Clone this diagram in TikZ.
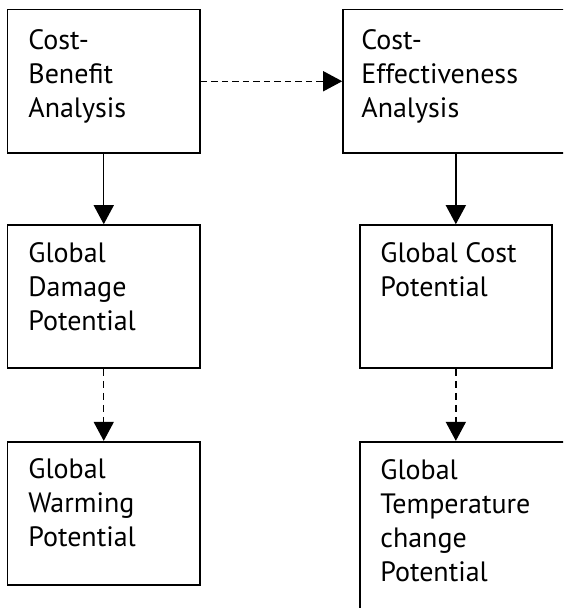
\documentclass[tikz,border=0pt]{standalone}
\usepackage{fontspec}
\setmainfont{PT Sans}
\usetikzlibrary{arrows.meta}
\tikzset{
  box/.style={draw, line width=1.6pt, inner sep=0pt, minimum width=192.5pt, minimum height=143.5pt},
  label/.style={anchor=north west, inner sep=0pt, align=left, font=\fontsize{28}{34}\selectfont},
  conn/.style={line width=1.4pt, -{Triangle[width=20pt,length=19pt]}},
  dconn/.style={conn, dash pattern=on 6.5pt off 4pt}
}
\begin{document}
\begin{tikzpicture}[x=1pt,y=-1pt]
\useasboundingbox (0,0) rectangle (563,608);
\clip (0,0) rectangle (563,608);
\fill[white] (0,0) rectangle (563,608);
\node[box] (b1) at (103.75,81.25) {};
\node[box, minimum width=240pt] (b2) at (463,81.25) {};
\node[box, minimum height=143pt] (b3) at (103.75,296.5) {};
\node[box, minimum width=191.7pt, minimum height=143pt] (b4) at (455.85,296.5) {};
\node[box, minimum height=143.3pt] (b5) at (103.75,513.35) {};
\node[box, minimum width=240pt, minimum height=210pt] (b6) at (480,546.7) {};

\node[label] (t1) at ([shift={(21.5,16.7)}]b1.north west) {\strut Cost-\\Benefit\\Analysis};
\node[label] (t2) at ([shift={(19,16.7)}]b2.north west) {\strut Cost-\\Effectiveness\\Analysis};
\node[label] (t3) at ([shift={(21.5,14.2)}]b3.north west) {\strut Global\\Damage\\Potential};
\node[label] (t4) at ([shift={(21,14.2)}]b4.north west) {\strut Global Cost\\Potential};
\node[label] (t5) at ([shift={(21.5,13.5)}]b5.north west) {\strut Global\\Warming\\Potential};
\node[label] (t6) at ([shift={(21,14.5)}]b6.north west) {\strut Global\\Temperature\\change\\Potential};

\draw[dconn] (b1.east) -- (b2.west);
\draw[conn] (b1.south) -- (b3.north);
\draw[conn] (b4.north |- b2.south) -- (b4.north);
\draw[dconn, dash pattern=on 7.5pt off 4.5pt] (b3.south) -- (b5.north);
\draw[dconn, dash pattern=on 7.5pt off 4.5pt] (b4.south) -- (b4.south |- b6.north);
\end{tikzpicture}
\end{document}
